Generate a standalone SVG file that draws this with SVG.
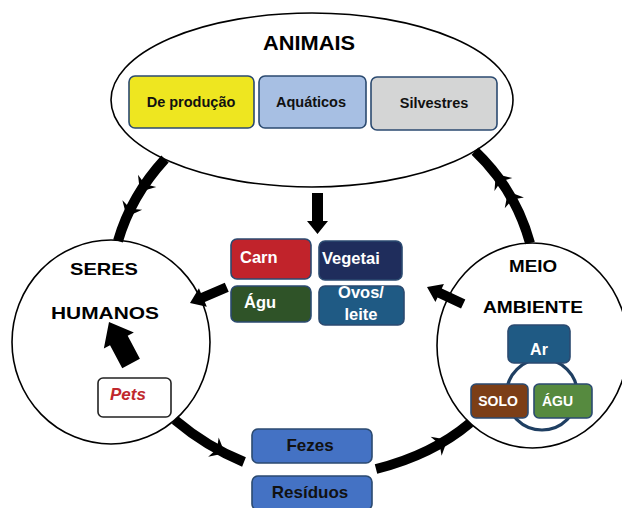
<svg xmlns="http://www.w3.org/2000/svg" xmlns:xlink="http://www.w3.org/1999/xlink" width="622" height="508" viewBox="0 0 622 508">
<style>
.node{fill:#fff;stroke:#000;stroke-width:1.6}
.title{font-family:"Liberation Sans",Arial,sans-serif;font-weight:bold;fill:#000;text-anchor:middle}
.box{stroke:#2B4A70;stroke-width:1.6}
.lbl{font-family:"Liberation Sans",Arial,sans-serif;font-weight:bold}
.dark{fill:#111;text-anchor:middle}
.white{fill:#fff}
.arc{fill:none;stroke:#000;stroke-width:10}
.blk{fill:#000}
</style>
<defs>
<path id="barb" d="M7,0 L-6,-11 L-2,0 L-6,11 Z" fill="#000"/>
</defs>
<rect width="622" height="508" fill="#fff"/>

<g id="animais">
<ellipse class="node" cx="312" cy="100" rx="201" ry="87"/>
<text class="title" x="309" y="50" font-size="19.5" textLength="92" lengthAdjust="spacingAndGlyphs">ANIMAIS</text>
<rect class="box" x="129" y="76" width="125" height="52" rx="6" fill="#EEE620"/>
<text class="lbl dark" x="191" y="107" font-size="14.5">De produção</text>
<rect class="box" x="259" y="76" width="107" height="52" rx="6" fill="#A7BFE3"/>
<text class="lbl dark" x="311" y="107" font-size="14.5">Aquáticos</text>
<rect class="box" x="371" y="77" width="126" height="53" rx="6" fill="#D4D5D5"/>
<text class="lbl dark" x="434" y="108" font-size="14.5">Silvestres</text>
</g>

<g id="seres-humanos">
<ellipse class="node" cx="111" cy="342" rx="99" ry="102"/>
<text class="title" x="104" y="275" font-size="16.5" textLength="68" lengthAdjust="spacingAndGlyphs">SERES</text>
<text class="title" x="105" y="319" font-size="16.5" textLength="108" lengthAdjust="spacingAndGlyphs">HUMANOS</text>
</g>

<g id="pets">
<rect x="98" y="378" width="73" height="39" rx="5" fill="#fff" stroke="#222" stroke-width="1.6"/>
<text class="lbl" x="110" y="400" font-size="17" font-style="italic" fill="#C0272D">Pets</text>
</g>

<g id="meio-ambiente">
<ellipse class="node" cx="532.5" cy="345.5" rx="95.5" ry="102.5"/>
<text class="title" x="533" y="272" font-size="16.5" textLength="48" lengthAdjust="spacingAndGlyphs">MEIO</text>
<text class="title" x="533" y="313" font-size="16.5" textLength="100" lengthAdjust="spacingAndGlyphs">AMBIENTE</text>
<circle cx="542" cy="394.5" r="35.5" fill="none" stroke="#1F3F62" stroke-width="3.2"/>
<rect class="box" x="508" y="325" width="62" height="38" rx="6" fill="#1F5A84"/>
<text class="lbl white" x="539" y="355" font-size="16" text-anchor="middle">Ar</text>
<rect class="box" x="471" y="384" width="57" height="34" rx="5" fill="#7C3E17"/>
<text class="lbl white" x="498" y="406" font-size="14" text-anchor="middle">SOLO</text>
<rect class="box" x="534" y="384" width="58" height="34" rx="5" fill="#568A3F"/>
<text class="lbl white" x="557.5" y="406" font-size="14" text-anchor="middle">ÁGU</text>
</g>

<g id="alimentos">
<rect class="box" x="231" y="239" width="80" height="40" rx="6" fill="#C1232B"/>
<text class="lbl white" x="240" y="263" font-size="16.5">Carn</text>
<rect class="box" x="319" y="241" width="83" height="39" rx="6" fill="#1F2D5C"/>
<text class="lbl white" x="322" y="264" font-size="16.5">Vegetai</text>
<rect class="box" x="231" y="286" width="80" height="36" rx="6" fill="#2F5328"/>
<text class="lbl white" x="244" y="308" font-size="16.5">Águ</text>
<rect class="box" x="319" y="286" width="85" height="39" rx="6" fill="#1F5A84"/>
<text class="lbl white" x="361" y="298" font-size="16.5" text-anchor="middle">Ovos/</text>
<text class="lbl white" x="361" y="320" font-size="16.5" text-anchor="middle">leite</text>
</g>

<g id="fezes">
<rect class="box" x="252" y="429" width="120" height="34" rx="6" fill="#4472C4"/>
<text class="lbl dark" x="310" y="451" font-size="17">Fezes</text>
</g>
<g id="residuos">
<rect class="box" x="252" y="476" width="120" height="34" rx="6" fill="#4472C4"/>
<text class="lbl dark" x="310" y="498" font-size="17">Resíduos</text>
</g>

<g id="connectors">
<path class="arc" d="M165,159 Q131,196 118,241"/>
<use href="#barb" transform="translate(143.8,185.9) rotate(123.8)"/>
<use href="#barb" transform="translate(129.7,210.5) rotate(115.7)"/>
<path class="arc" d="M475,151 Q515,189 530,243"/>
<use href="#barb" transform="translate(499.9,179.6) rotate(-125.6)"/>
<use href="#barb" transform="translate(511.4,197.7) rotate(-119.3)"/>
<path class="arc" d="M175,420 Q207,447 244,462"/>
<use href="#barb" transform="translate(218.7,450) rotate(28.6)"/>
<path class="arc" d="M376,469 Q432,455 470,423"/>
<use href="#barb" transform="translate(441.3,443.2) rotate(-30.1)"/>
<polygon class="blk" points="312,193 323,193 323,221 328,221 317.5,234 307,221 312,221"/>
<polygon class="blk" points="0,0 -14,-10 -14,-5 -40,-5 -40,5 -14,5 -14,10" transform="translate(190,303) rotate(156.8)"/>
<polygon class="blk" points="0,0 -14,-10 -14,-5 -40,-5 -40,5 -14,5 -14,10" transform="translate(427,287) rotate(205.2)"/>
<polygon class="blk" points="0,0 17,21 10,21 10,47 -10,47 -10,21 -17,21" transform="translate(109,322) rotate(-28)"/>
</g>
</svg>
